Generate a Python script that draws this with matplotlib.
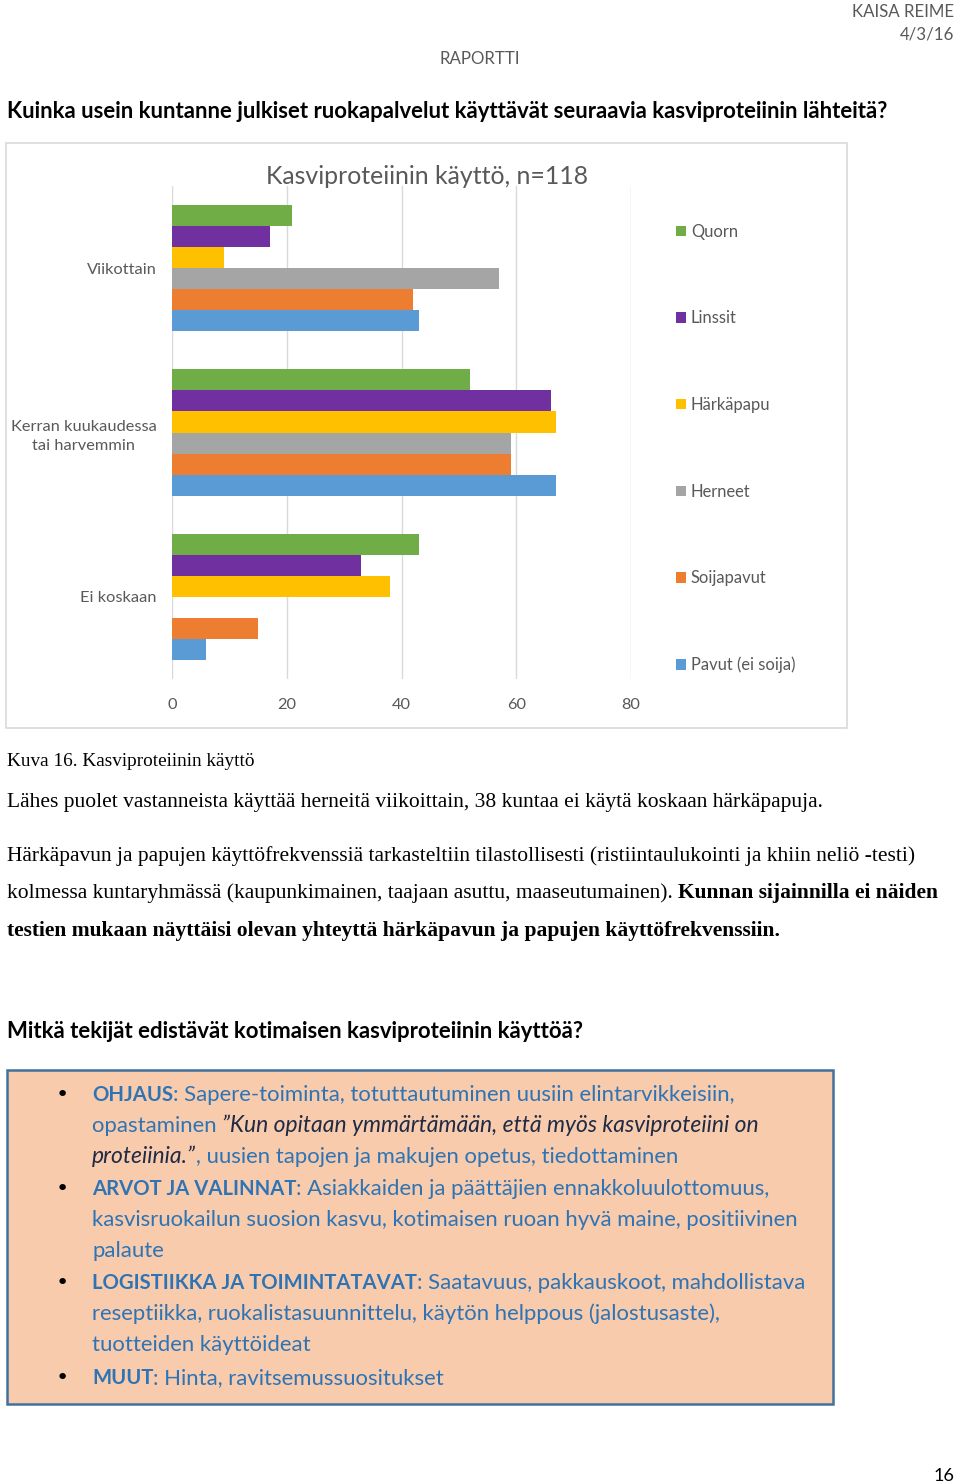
#!/usr/bin/env python3
"""Report page with horizontal bar chart of plant protein use"""

import matplotlib
matplotlib.use("Agg")
import matplotlib.pyplot as plt
from matplotlib.patches import Rectangle
import numpy as np

# ========================================================================
# Data
# ========================================================================
categories = ["Viikottain", "Kerran kuukaudessa\ntai harvemmin", "Ei koskaan"]
series = ["Quorn", "Linssit", "Härkäpapu", "Herneet", "Soijapavut", "Pavut (ei soija)"]
quorn = [21, 52, 43]
linssit = [17, 66, 33]
harkapapu = [9, 67, 38]
herneet = [57, 59, 0]
soijapavut = [42, 59, 15]
pavut = [43, 67, 6]
xticks = [0, 20, 40, 60, 80]
colors = ["#70AD47", "#7030A0", "#FFC000", "#A5A5A5", "#ED7D31", "#5B9BD5"]

# ========================================================================
# Page setup
# ========================================================================
W, H = 960, 1484
fig = plt.figure(figsize=(W / 100, H / 100), dpi=100)
SANS = "Lato"
SERIF = "Liberation Serif"
GRAY = "#595959"
BLUE = "#2E74B5"


def fx(x):
    return x / W


def fy(y):
    return 1 - y / H


renderer = fig.canvas.get_renderer()


def advance(s, props):
    t = fig.text(0, 0, "|" + s + "|", **props)
    w1 = t.get_window_extent(renderer).width
    t.set_text("||")
    w2 = t.get_window_extent(renderer).width
    t.remove()
    return w1 - w2


def rich(x, y, parts):
    for s, props in parts:
        fig.text(fx(x), fy(y), s, va="baseline", ha="left", **props)
        x += advance(s, props)


# header
fig.text(fx(954), fy(17), "KAISA REIME", ha="right", va="baseline",
         family=SANS, fontsize=12.2, color=GRAY)
fig.text(fx(954), fy(40), "4/3/16", ha="right", va="baseline",
         family=SANS, fontsize=12.2, color=GRAY)
fig.text(fx(480), fy(64), "RAPORTTI", ha="center", va="baseline",
         family=SANS, fontsize=12.2, color=GRAY)

fig.text(fx(7), fy(118),
         "Kuinka usein kuntanne julkiset ruokapalvelut käyttävät seuraavia kasviproteiinin lähteitä?",
         ha="left", va="baseline", family=SANS, fontsize=15.9, fontweight="bold", color="black")

# ========================================================================
# Chart
# ========================================================================
fig.patches.append(Rectangle((fx(6), fy(728)), fx(841), (728 - 143) / H,
                             transform=fig.transFigure, fill=False,
                             edgecolor="#D9D9D9", lw=1.2))

ax_left, ax_right, ax_top, ax_bot = 172, 631, 186, 679
ax = fig.add_axes([fx(ax_left), fy(ax_bot), (ax_right - ax_left) / W, (ax_bot - ax_top) / H])

values = [quorn, linssit, harkapapu, herneet, soijapavut, pavut]
bar_h = 0.128
ypos = np.arange(len(categories))
handles = []
for j, (vals, c) in enumerate(zip(values, colors)):
    b = ax.barh(ypos + (j - 2.5) * bar_h, vals, height=bar_h, color=c, label=series[j], zorder=3)
    handles.append(b)

ax.set_xlim(0, 80)
ax.set_ylim(2.5, -0.5)
ax.set_xticks(xticks)
ax.set_yticks(ypos)
ax.set_yticklabels(categories, multialignment="center", linespacing=1.45)
ax.grid(axis="x", color="#D9D9D9", lw=1, zorder=0)
for s in ax.spines.values():
    s.set_visible(False)
ax.tick_params(length=0, labelcolor=GRAY, labelsize=11.8)
ax.tick_params(axis="y", pad=11)
ax.tick_params(axis="x", pad=14)
for lab in ax.get_xticklabels() + ax.get_yticklabels():
    lab.set_family(SANS)

fig.text(fx(427), fy(184), "Kasviproteiinin käyttö, n=118", ha="center", va="baseline",
         family=SANS, fontsize=17.9, color=GRAY)

leg = fig.legend(handles=handles, loc="upper left", bbox_to_anchor=(fx(661), fy(209)),
                 frameon=False, labelspacing=4.27, handlelength=0.6, handleheight=0.6,
                 handletextpad=0.3, prop={"family": SANS, "size": 11.9})
for t in leg.get_texts():
    t.set_color(GRAY)

# ========================================================================
# Body text
# ========================================================================
serif = {"family": SERIF, "fontsize": 15.5, "color": "black"}
serif_b = dict(serif, fontweight="bold")

fig.text(fx(7), fy(766), "Kuva 16. Kasviproteiinin käyttö", ha="left", va="baseline",
         family=SERIF, fontsize=13.9, color="black")
rich(7, 807, [("Lähes puolet vastanneista käyttää herneitä viikoittain, 38 kuntaa ei käytä koskaan härkäpapuja.", serif)])
rich(7, 861, [("Härkäpavun ja papujen käyttöfrekvenssiä tarkasteltiin tilastollisesti (ristiintaulukointi ja khiin neliö -testi)", serif)])
rich(7, 898, [("kolmessa kuntaryhmässä (kaupunkimainen, taajaan asuttu, maaseutumainen). ", serif),
              ("Kunnan sijainnilla ei näiden", serif_b)])
rich(7, 936, [("testien mukaan näyttäisi olevan yhteyttä härkäpavun ja papujen käyttöfrekvenssiin.", serif_b)])

fig.text(fx(7), fy(1038), "Mitkä tekijät edistävät kotimaisen kasviproteiinin käyttöä?",
         ha="left", va="baseline", family=SANS, fontsize=15.9, fontweight="bold", color="black")

# box
fig.patches.append(Rectangle((fx(7), fy(1404)), (833 - 7) / W, (1404 - 1070) / H,
                             transform=fig.transFigure, facecolor="#F8CBAD",
                             edgecolor="#41719C", lw=1.8))

reg = {"family": SANS, "fontsize": 15.9, "color": BLUE}
bold = dict(reg, fontweight="bold", fontsize=14.6)
ital = dict(reg, style="italic", fontsize=16.5, color="#1F2A44")

lines = [
    (True, [("OHJAUS", bold), (": Sapere-toiminta, totuttautuminen uusiin elintarvikkeisiin,", reg)]),
    (False, [("opastaminen ", reg), ("\u201dKun opitaan ymmärtämään, että myös kasviproteiini on", ital)]),
    (False, [("proteiinia.\u201d", ital), (", uusien tapojen ja makujen opetus, tiedottaminen", reg)]),
    (True, [("ARVOT JA VALINNAT", bold), (": Asiakkaiden ja päättäjien ennakkoluulottomuus,", reg)]),
    (False, [("kasvisruokailun suosion kasvu, kotimaisen ruoan hyvä maine, positiivinen", reg)]),
    (False, [("palaute", reg)]),
    (True, [("LOGISTIIKKA JA TOIMINTATAVAT", bold), (": Saatavuus, pakkauskoot, mahdollistava", reg)]),
    (False, [("reseptiikka, ruokalistasuunnittelu, käytön helppous (jalostusaste),", reg)]),
    (False, [("tuotteiden käyttöideat", reg)]),
    (True, [("MUUT", bold), (": Hinta, ravitsemussuositukset", reg)]),
]
baselines = [1101, 1132, 1163, 1195, 1226, 1257, 1289, 1320, 1351, 1384]
for (bullet, parts), yb in zip(lines, baselines):
    if bullet:
        fig.text(fx(62), fy(yb), "\u2022", ha="center", va="baseline",
                 family="DejaVu Sans", fontsize=16, color="black")
    rich(92, yb, parts)

fig.text(fx(954), fy(1481), "16", ha="right", va="baseline", family=SANS, fontsize=13, color="black")

fig.savefig("out.png", dpi=100)
